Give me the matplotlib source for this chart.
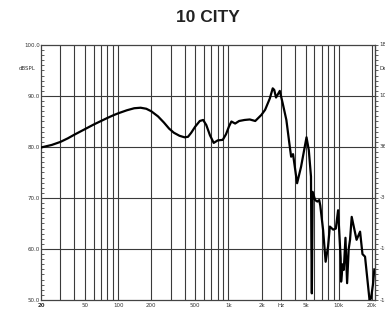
import matplotlib
matplotlib.use("Agg")
import matplotlib.pyplot as plt
import numpy as np

title = "10 CITY"
freq = [20, 25, 30, 35, 40, 50, 60, 70, 80, 90, 100, 120, 140, 160, 180, 200,
        230, 260, 290, 320, 360, 400, 430, 460, 500, 550, 590, 630, 680,
        735, 800, 888, 950, 1010, 1064, 1150, 1250, 1400, 1560, 1750, 1990,
        2150, 2370, 2520, 2600, 2700, 2920, 3100, 3350, 3600, 3700, 3850, 4190,
        4550, 5100, 5350, 5600, 5650, 5700, 5800, 6100, 6400, 6650, 6800, 7212,
        7600, 8000, 8300, 8900, 9400, 9860, 10400, 10500, 10850, 11100, 11500,
        11900, 12300, 12650, 13100, 14500, 15600, 16400, 17300, 18000, 19000,
        19600, 20400, 21000]
spl = [79.9, 80.4, 81.0, 81.7, 82.4, 83.5, 84.4, 85.1, 85.7, 86.2, 86.6, 87.2,
       87.6, 87.7, 87.5, 87.0, 86.0, 84.8, 83.6, 82.8, 82.2, 81.9, 82.0, 82.8,
       84.0, 85.1, 85.3, 84.3, 82.3, 80.8, 81.3, 81.4, 82.5, 84.0, 85.0, 84.6,
       85.1, 85.3, 85.4, 85.1, 86.3, 87.3, 89.5, 91.5, 91.2, 89.7, 91.0, 88.6,
       85.3, 80.0, 78.1, 78.6, 72.9, 76.1, 81.9, 79.4, 74.2, 60.0, 51.3, 71.2,
       69.6, 69.3, 69.6, 68.5, 63.7, 57.5, 60.5, 64.4, 63.8, 64.0, 67.6, 58.2,
       53.6, 57.0, 55.9, 62.2, 53.3, 60.0, 61.8, 66.3, 61.8, 63.4, 59.0, 58.5,
       54.9, 50.0, 50.3, 53.0, 56.0]

y_ticks = [50, 60, 70, 80, 90, 100]
y_labels = ["50.0", "60.0", "70.0", "80.0", "90.0", "100.0"]
x_tick_pos = [20, 50, 100, 200, 500, 1000, 2000, 3000, 5000, 10000, 20000]
x_tick_labels = ["20", "50", "100", "200", "500", "1k", "2k", "Hz", "5k", "10k", "20k"]
right_labels = ["-180", "-108", "-36", "36", "108", "180"]
grid_x = [30, 40, 50, 60, 70, 80, 90, 100, 200, 300, 400, 500, 600, 700, 800,
          900, 1000, 2000, 3000, 4000, 5000, 6000, 7000, 8000, 9000, 10000, 20000]

fig = plt.figure(figsize=(3.85, 3.12), dpi=100)
ax = fig.add_axes([41/385, 1-300/312, (375-41)/385, (300-45)/312])
ax.set_xscale("log")
ax.set_xlim(20, 21300)
ax.set_ylim(50, 100)

for gx in grid_x:
    ax.axvline(gx, color="#3a3a3a", lw=0.8, zorder=1)
for gy in y_ticks[1:-1]:
    ax.axhline(gy, color="#3a3a3a", lw=0.8, zorder=1)

ax.plot(freq, spl, color="black", lw=1.6, zorder=3, solid_joinstyle="round")

for s in ax.spines.values():
    s.set_color("#444444")
    s.set_linewidth(0.9)

ax.set_xticks([])
ax.set_xticks([], minor=True)
ax.set_yticks(y_ticks)
ax.set_yticklabels(y_labels)
ax.set_yticks(np.arange(50, 101, 1), minor=True)
ax.tick_params(axis="y", which="both", direction="in", left=True, right=False,
               labelsize=4, labelcolor="#333333", color="#444444", pad=1)
ax.tick_params(axis="y", which="major", length=3, width=0.6)
ax.tick_params(axis="y", which="minor", length=2, width=0.6)

sec = ax.secondary_yaxis("right")
sec.set_yticks(y_ticks)
sec.set_yticklabels([])
sec.set_yticks(np.arange(50, 101, 1), minor=True)
sec.tick_params(axis="y", which="both", direction="out", length=2, width=0.6,
                color="#444444")
sec.spines["right"].set_color("#444444")

for xp, xl in zip(x_tick_pos, x_tick_labels):
    ax.text(xp, -0.012, xl, transform=ax.get_xaxis_transform(), ha="center",
            va="top", fontsize=4, color="#333333",
            fontweight="bold" if xl == "20" else "normal")

ax.text(-0.015, 95.3, "dBSPL", transform=ax.get_yaxis_transform(), ha="right",
        va="center", fontsize=4, color="#333333")

for yv, lab in zip(y_ticks, right_labels):
    ax.text(1.013, yv, lab, transform=ax.get_yaxis_transform(), ha="left",
            va="center", fontsize=4, color="#333333", clip_on=False)
ax.text(1.013, 95.3, "Deg", transform=ax.get_yaxis_transform(), ha="left",
        va="center", fontsize=4, color="#333333", clip_on=False)

fig.text(208/385, 1-18/312, title, ha="center", va="center", fontsize=12.5,
         fontweight="bold", color="#222222", family="Liberation Sans")

fig.savefig("out.png", dpi=100)
